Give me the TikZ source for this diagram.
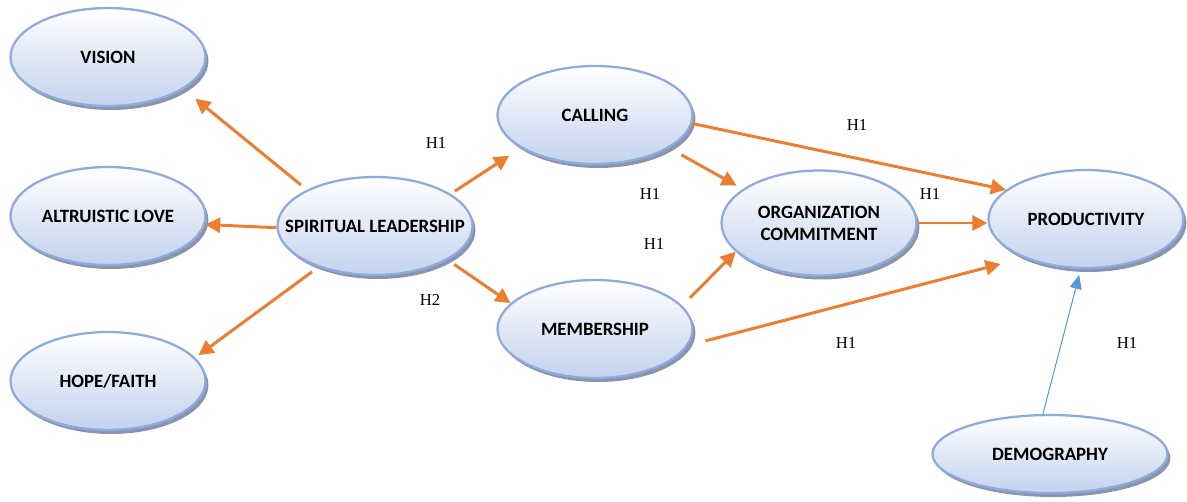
\documentclass[tikz,border=0pt]{standalone}
\usepackage{fontspec}
\setmainfont{Liberation Serif}
\newfontfamily\boxfont{Carlito}
\usetikzlibrary{
  arrows.meta,
  shapes.geometric,
  shadows,
  positioning
}
\definecolor{slOrange}{HTML}{ED7D31}
\definecolor{slLink}{HTML}{5B9BD5}
\definecolor{slRim}{HTML}{8FAADC}
\definecolor{slFill}{HTML}{C3D2EE}
\definecolor{slShade}{HTML}{7D8AA3}
\tikzset{
  construct/.style={
    ellipse, draw=slRim, line width=1.3pt, top color=white, bottom color=slFill,
    minimum width=3.9cm, minimum height=1.96cm, inner xsep=-1.8cm, inner ysep=0pt,
    align=center, font=\boxfont\bfseries\fontsize{10.7}{12.6}\selectfont,
    drop shadow={shadow xshift=0.06cm, shadow yshift=-0.08cm, fill=slShade, opacity=0.9}
  },
  hyp/.style={-{Triangle[length=0.3cm, width=0.3cm]}, line width=1.7pt, slOrange},
  ctrl/.style={-{Triangle[length=0.28cm, width=0.24cm]}, line width=0.6pt, slLink},
  htag/.style={font=\fontsize{9.5}{11}\selectfont, inner sep=0pt}
}

\begin{document}
\begin{tikzpicture}[x=0.02cm, y=-0.02cm]
  \useasboundingbox (0,0) rectangle (1187,501);

  % dimensions of spiritual leadership
  \node[construct] (vision) at (108,57) {VISION};
  \node[construct] (love) at (108,216) {ALTRUISTIC LOVE};
  \node[construct] (hope) at (108,381) {HOPE/FAITH};
  \node[construct] (spirit) at (375,226) {SPIRITUAL LEADERSHIP};

  % well-being and outcome
  \node[construct] (calling) at (595,115) {CALLING};
  \node[construct] (member) at (595,329) {MEMBERSHIP};
  \node[construct, minimum height=2.1cm] (commit) at (819,223) {ORGANIZATION\\COMMITMENT};
  \node[construct] (prod) at (1086,219) {PRODUCTIVITY};
  \node[construct, minimum width=4.7cm, minimum height=1.56cm] (demo) at (1050,454) {DEMOGRAPHY};

  \draw[hyp, shorten <=0.15cm, shorten >=0.3cm] (spirit.152) -- (vision.-23);
  \draw[hyp] (spirit.181) -- (love.-5);
  \draw[hyp, shorten <=0.16cm, shorten >=0.08cm] (spirit.216) -- (hope.15);
  \draw[hyp, shorten <=0.1cm, shorten >=0.28cm] (spirit.23) -- (calling.204);
  \draw[hyp, shorten <=0.16cm] (spirit.-25) -- (member.163);
  \draw[hyp, shorten <=0.28cm, shorten >=0.14cm] (calling.-24) -- (commit.156);
  \draw[hyp, shorten <=0.22cm] (member.15) -- (commit.199);
  \draw[hyp] (calling.-5) -- (prod.160);
  \draw[hyp] (commit.east) -- (commit.east -| prod.west);
  \draw[hyp, shorten <=0.36cm, shorten >=0.48cm] (member.-10) -- (prod.212);
  \draw[ctrl, shorten >=0.12cm] (demo.100) -- (prod.-96);

  % hypothesis tags
  \node[htag] (h1a) at (436,143) {H1};
  \node[htag] (h1b) at (650,194) {H1};
  \node[htag] (h1c) at (654,244) {H1};
  \node[htag] (h2) at (430,300) {H2};
  \node[htag] (h1d) at (857,125) {H1};
  \node[htag] (h1e) at (930,194) {H1};
  \node[htag] (h1f) at (846,343) {H1};
  \node[htag] (h1g) at (1127,343) {H1};
\end{tikzpicture}
\end{document}
